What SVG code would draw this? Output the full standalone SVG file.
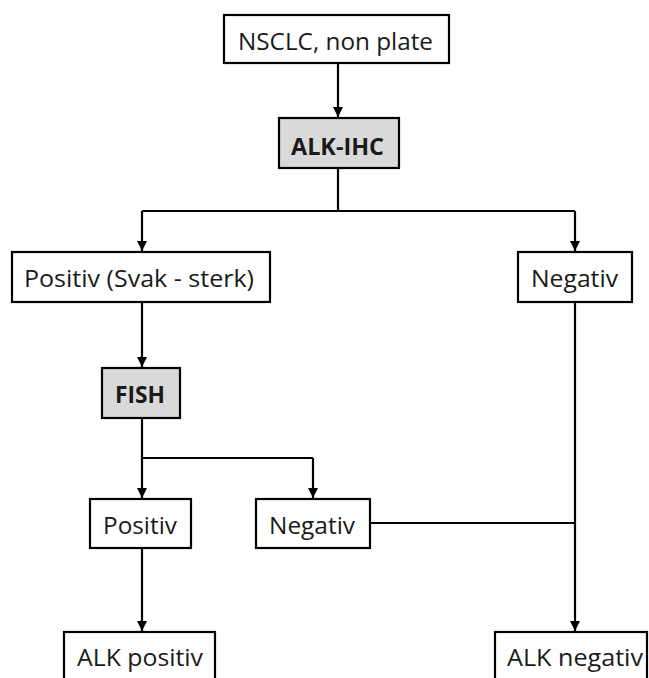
<svg xmlns="http://www.w3.org/2000/svg" width="649" height="678" viewBox="0 0 649 678">
<style>
.box{fill:#ffffff;stroke:#000;stroke-width:2.2}
.gray{fill:#d9d9d9}
.t{font-family:"Open Sans","Noto Sans","Liberation Sans",sans-serif;font-size:24px;fill:#1a1a1a;text-anchor:middle}
.b{font-weight:bold}
.c{fill:none;stroke:#000;stroke-width:2.2}
</style>
<defs>
<marker id="ah" viewBox="0 0 10 10" refX="10" refY="5" markerWidth="10" markerHeight="10" markerUnits="userSpaceOnUse" orient="auto">
<path d="M0,0 L10,5 L0,10 Z" fill="#000"/>
</marker>
</defs>
<rect width="649" height="678" fill="#ffffff"/>
<g id="connectors">
<path class="c" d="M338,63 L338,117" marker-end="url(#ah)"/>
<path class="c" d="M338,168 L338,211 M142,211 L575,211"/>
<path class="c" d="M142,211 L142,251" marker-end="url(#ah)"/>
<path class="c" d="M575,211 L575,251" marker-end="url(#ah)"/>
<path class="c" d="M142,302 L142,367" marker-end="url(#ah)"/>
<path class="c" d="M142,418 L142,458 L313,458"/>
<path class="c" d="M142,458 L142,498" marker-end="url(#ah)"/>
<path class="c" d="M313,458 L313,498" marker-end="url(#ah)"/>
<path class="c" d="M370,523 L575,523"/>
<path class="c" d="M575,302 L575,631" marker-end="url(#ah)"/>
<path class="c" d="M142,548 L142,631" marker-end="url(#ah)"/>
</g>
<g id="nsclc">
<rect class="box" x="224" y="15" width="225" height="48"/>
<text class="t" x="335.5" y="50" textLength="195" lengthAdjust="spacingAndGlyphs">NSCLC, non plate</text>
</g>
<g id="alk-ihc">
<rect class="box gray" x="279" y="118" width="120" height="50"/>
<text class="t b" x="337.5" y="155" textLength="93" lengthAdjust="spacingAndGlyphs">ALK-IHC</text>
</g>
<g id="positiv1">
<rect class="box" x="12" y="252" width="258" height="50"/>
<text class="t" x="139" y="287" textLength="230" lengthAdjust="spacingAndGlyphs">Positiv (Svak - sterk)</text>
</g>
<g id="negativ1">
<rect class="box" x="518" y="252" width="114" height="50"/>
<text class="t" x="574.5" y="287" textLength="87" lengthAdjust="spacingAndGlyphs">Negativ</text>
</g>
<g id="fish">
<rect class="box gray" x="102" y="368" width="78" height="50"/>
<text class="t b" x="140" y="403" textLength="50" lengthAdjust="spacingAndGlyphs">FISH</text>
</g>
<g id="positiv2">
<rect class="box" x="90" y="499" width="101" height="49"/>
<text class="t" x="140" y="534" textLength="74" lengthAdjust="spacingAndGlyphs">Positiv</text>
</g>
<g id="negativ2">
<rect class="box" x="256" y="499" width="114" height="49"/>
<text class="t" x="312" y="534" textLength="86" lengthAdjust="spacingAndGlyphs">Negativ</text>
</g>
<g id="alk-positiv">
<rect class="box" x="64" y="632" width="151" height="52"/>
<text class="t" x="140" y="666" textLength="126" lengthAdjust="spacingAndGlyphs">ALK positiv</text>
</g>
<g id="alk-negativ">
<rect class="box" x="495" y="632" width="152" height="52"/>
<text class="t" x="575" y="666" textLength="136" lengthAdjust="spacingAndGlyphs">ALK negativ</text>
</g>
</svg>
